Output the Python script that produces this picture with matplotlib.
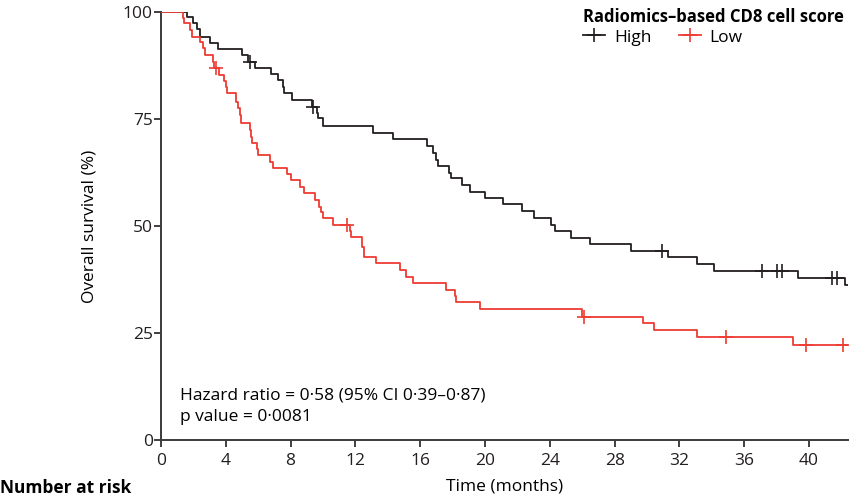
import numpy as np
import matplotlib.pyplot as plt
from matplotlib.lines import Line2D

plt.rcParams['font.family'] = ['Open Sans', 'DejaVu Sans']

# Kaplan-Meier steps: event time (months), survival (%) after the drop
high_t = [0, 1.6, 2.0, 2.2, 2.4, 3.0, 3.5, 5.0, 5.4, 5.8, 6.8, 7.2, 7.5, 7.6, 8.1, 9.3, 9.6, 9.7,
          10.0, 13.1, 14.3, 16.4, 16.8, 17.0, 17.1, 17.8, 17.9, 18.6, 19.1, 20.0, 21.1, 22.3,
          23.0, 24.1, 24.3, 25.3, 26.5, 29.0, 31.3, 33.1, 34.1, 39.3, 42.2]
high_s = [100, 98.8, 97.4, 96.0, 94.2, 92.8, 91.4, 90.0, 88.4, 86.9, 85.5, 84.1, 82.5, 81.0, 79.4,
          77.8, 76.4, 75.2, 73.4, 71.8, 70.3, 68.7, 67.0, 65.4, 64.0, 62.4, 61.2, 59.6, 58.0,
          56.5, 55.1, 53.5, 51.9, 50.2, 48.8, 47.3, 45.8, 44.2, 42.8, 41.1, 39.5, 37.8, 36.2]
high_end = 42.6
high_cens = [5.5, 9.4, 30.9, 37.1, 38.0, 38.3, 41.4, 41.7]

low_t = [0, 1.35, 1.4, 1.8, 1.9, 2.4, 2.6, 2.7, 3.2, 3.3, 3.6, 3.9, 4.0, 4.1, 4.6, 4.75, 4.9,
         4.95, 5.5, 5.55, 5.6, 5.9, 6.0, 6.7, 6.9, 7.8, 8.0, 8.6, 8.8, 9.5, 9.75, 9.9, 10.0,
         10.6, 11.65, 11.7, 12.4, 12.5, 12.55, 13.3, 14.75, 15.1, 15.55, 17.6, 18.15, 18.2,
         19.7, 26.0, 29.75, 30.4, 33.1, 39.0]
low_s = [100, 98.6, 97.4, 95.8, 94.2, 93.0, 91.6, 90.0, 88.3, 86.9, 85.3, 83.9, 82.5, 81.1,
         79.0, 77.5, 75.9, 74.1, 72.4, 70.8, 69.4, 68.0, 66.6, 65.0, 63.5, 62.1, 60.7, 59.2,
         57.7, 56.1, 54.5, 53.3, 51.9, 50.2, 48.8, 47.4, 45.1, 44.0, 42.8, 41.4, 39.7, 38.1,
         36.7, 35.0, 33.6, 32.2, 30.6, 28.8, 27.3, 25.7, 24.1, 22.2]
low_end = 42.5
low_cens = [3.4, 11.5, 26.1, 34.9, 39.8, 42.1]

x_ticks = [0, 4, 8, 12, 16, 20, 24, 28, 32, 36, 40]
y_ticks = [0, 25, 50, 75, 100]

black = '#231f20'
red = '#ee3b33'
fs = 12.5


def step_at(t, times, surv):
    i = np.searchsorted(times, t, side='right') - 1
    return surv[i]


fig = plt.figure(figsize=(8.54, 4.98), dpi=100)
ax = fig.add_axes([161 / 854, 58 / 498, 687 / 854, 428 / 498])

groups = [(high_t, high_s, high_end, high_cens, black, 'High'),
          (low_t, low_s, low_end, low_cens, red, 'Low')]
for t, s, end, cens, col, name in groups:
    tt = list(t) + [end]
    ss = list(s) + [s[-1]]
    ax.step(tt, ss, where='post', color=col, lw=1.3, zorder=3 if name == 'Low' else 2)
    cy = [step_at(c, t, s) for c in cens]
    ax.plot(cens, cy, ls='none', marker='+', ms=10, mew=1.2, color=col, zorder=4)

ax.set_xlim(0, 42.4)
ax.set_ylim(0, 100)
ax.set_xticks(x_ticks)
ax.set_yticks(y_ticks)
ax.tick_params(labelsize=fs, length=5, width=1.2, colors='#231f20')
ax.tick_params(axis='x', pad=4)
ax.tick_params(axis='y', pad=1)
for side in ['top', 'right']:
    ax.spines[side].set_visible(False)
for side in ['left', 'bottom']:
    ax.spines[side].set_linewidth(1.4)
    ax.spines[side].set_color('#3a3a3a')

ax.set_xlabel('Time (months)', fontsize=fs, labelpad=7)
ax.set_ylabel('Overall survival (%)', fontsize=fs, labelpad=18)

ax.text(1.2, 10.5, 'Hazard ratio = 0·58 (95% CI 0·39–0·87)', fontsize=fs, va='center')
ax.text(1.2, 5.3, 'p value = 0·0081', fontsize=fs, va='center')

handles = [Line2D([], [], color=black, marker='+', ms=10, mew=1.2, lw=1.3),
           Line2D([], [], color=red, marker='+', ms=10, mew=1.2, lw=1.3)]
leg = fig.legend(handles, ['High', 'Low'], ncol=2, frameon=False, fontsize=fs,
                 title='Radiomics–based CD8 cell score',
                 title_fontproperties={'weight': 'bold', 'size': 12},
                 loc='upper left', bbox_to_anchor=(573 / 854, 1.005), alignment='left',
                 handlelength=1.25, handletextpad=0.5, columnspacing=1.6,
                 borderpad=0.1, labelspacing=0.2)

fig.text(0.0, 0.002, 'Number at risk', fontsize=fs, weight='bold', va='bottom', ha='left')

fig.savefig('out.png', dpi=100)
